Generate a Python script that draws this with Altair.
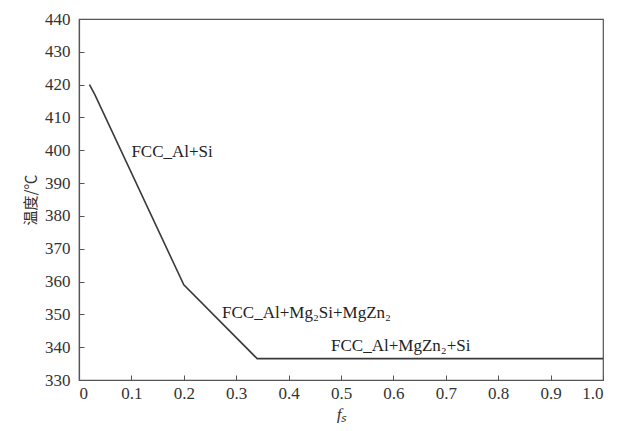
import altair as alt
import pandas as pd

# curve data
fs_vals = [0.02, 0.03, 0.20, 0.34, 1.0]
temp_vals = [420.0, 417.0, 359.0, 336.5, 336.5]

# annotations
label_text = ["FCC_Al+Si", "FCC_Al+Mg\u2082Si+MgZn\u2082", "FCC_Al+MgZn\u2082+Si"]
label_x = [0.10, 0.273, 0.481]
label_y = [399.5, 350.4, 340.4]

x_ticks = [0, 0.1, 0.2, 0.3, 0.4, 0.5, 0.6, 0.7, 0.8, 0.9, 1.0]
y_ticks = [330, 340, 350, 360, 370, 380, 390, 400, 410, 420, 430, 440]

W, H = 524, 361
FONT = "Liberation Serif, Times New Roman, serif"
AX = "#555555"
TXT = "#333333"

curve = pd.DataFrame({"fs": fs_vals, "T": temp_vals})
labels = pd.DataFrame({"t": label_text, "x": label_x, "y": label_y})

xs = alt.Scale(domain=[0, 1.0], nice=False)
ys = alt.Scale(domain=[330, 440], nice=False)

x_axis = alt.Axis(values=x_ticks, ticks=True, tickSize=alt.ExprRef(expr="-5"),
                  tickColor=AX, grid=False, title="f\u209b",
                  labelExpr="datum.value == 0 ? '0' : format(datum.value, '.1f')",
                  labelPadding=10, titleFontStyle="italic", titlePadding=5,
                  labelOverlap=False, labelFont=FONT, labelFontSize=17,
                  labelColor=TXT, titleFont=FONT, titleFontSize=17,
                  titleColor=TXT, titleFontWeight="normal",
                  domainColor=AX, domainWidth=1.2)
y_axis = alt.Axis(values=y_ticks, ticks=True, tickSize=alt.ExprRef(expr="-5"),
                  tickColor=AX, grid=False, title="温度/℃",
                  labelPadding=14, titleFont="Noto Sans CJK SC",
                  titleFontWeight="normal", titleFontSize=15, titlePadding=6,
                  labelOverlap=False, labelFont=FONT, labelFontSize=17,
                  labelColor=TXT, titleColor=TXT,
                  domainColor=AX, domainWidth=1.2)

line = alt.Chart(curve).mark_line(color="#3a3a3a", strokeWidth=1.6).encode(
    x=alt.X("fs:Q", scale=xs, axis=x_axis),
    y=alt.Y("T:Q", scale=ys, axis=y_axis),
)

text = alt.Chart(labels).mark_text(align="left", baseline="middle", font=FONT,
                                   fontSize=17, color="#222222").encode(
    x=alt.X("x:Q", scale=xs, axis=x_axis), y=alt.Y("y:Q", scale=ys, axis=y_axis), text="t:N")

chart = alt.layer(line, text).properties(
    width=W, height=H,
    autosize="none",
    padding={"left": 71, "top": 11, "right": 11, "bottom": 43},
    background="white",
).configure_view(stroke=AX, strokeWidth=1.2)

chart.save("out.html", embed_options={"renderer": "svg", "actions": False})
